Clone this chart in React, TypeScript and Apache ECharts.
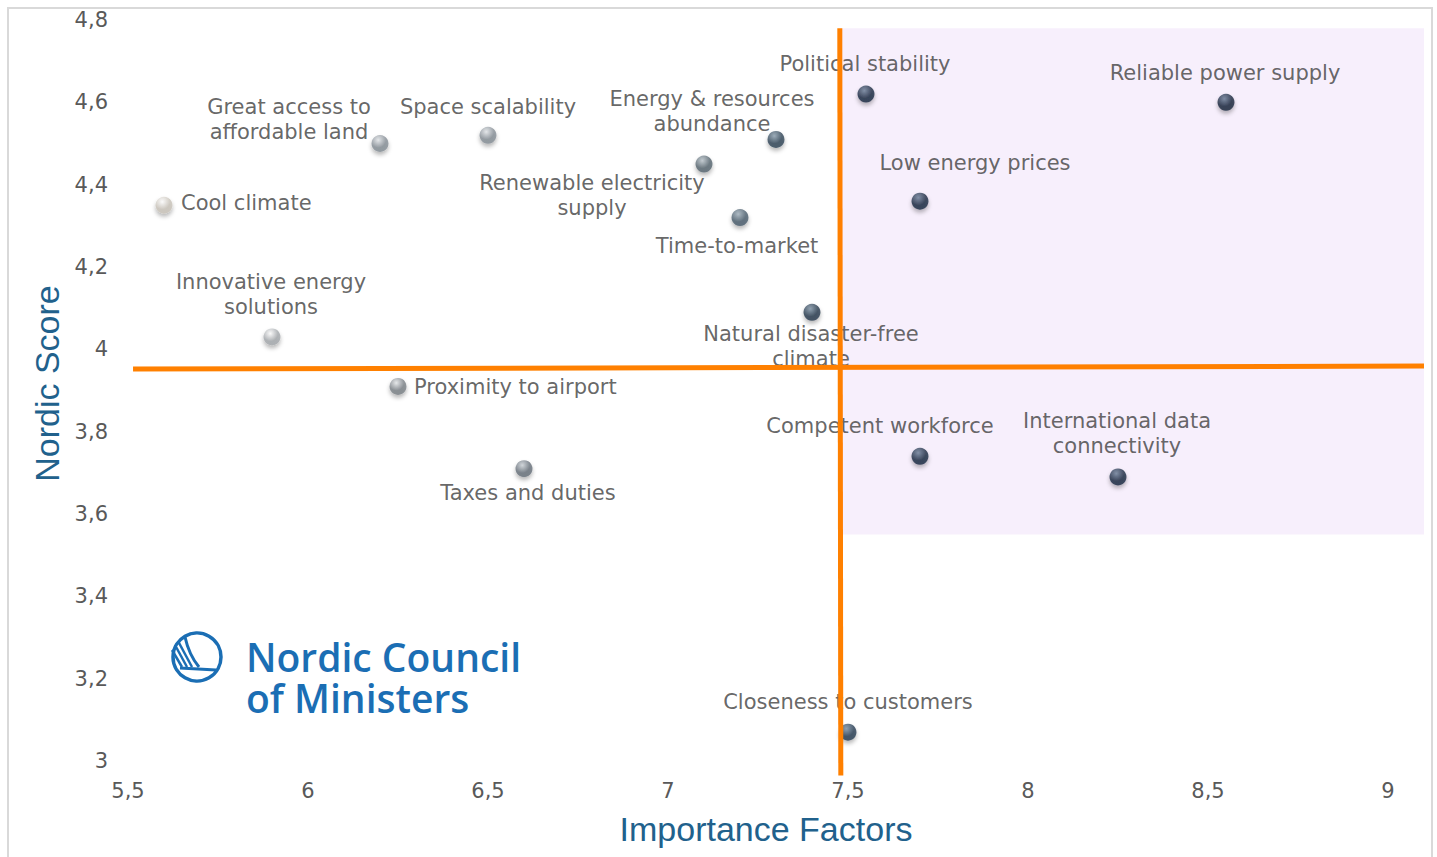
import React, { useEffect, useRef } from "react";
import * as echarts from "echarts";

// ---- data ----
const factors = [
  "Cool climate",
  "Great access to\naffordable land",
  "Space scalability",
  "Renewable electricity\nsupply",
  "Energy & resources\nabundance",
  "Time-to-market",
  "Political stability",
  "Reliable power supply",
  "Low energy prices",
  "Natural disaster-free\nclimate",
  "Innovative energy\nsolutions",
  "Proximity to airport",
  "Taxes and duties",
  "Competent workforce",
  "International data\nconnectivity",
  "Closeness to customers",
];
const importance = [5.6, 6.2, 6.5, 7.1, 7.3, 7.2, 7.55, 8.55, 7.7, 7.4, 5.9, 6.25, 6.6, 7.7, 8.25, 7.5];
const nordicScore = [4.35, 4.5, 4.52, 4.45, 4.51, 4.32, 4.62, 4.6, 4.36, 4.09, 4.03, 3.91, 3.71, 3.74, 3.69, 3.07];

const xTicks = [5.5, 6, 6.5, 7, 7.5, 8, 8.5, 9];
const yTicks = [3, 3.2, 3.4, 3.6, 3.8, 4, 4.2, 4.4, 4.6, 4.8];

const thresholdImportance = 7.48;
const thresholdScore = 3.957;

// ---- styling / layout (not data) ----
const pointColors = [
  ["#ffffff", "#c9c3b9"],
  ["#e4e7ea", "#858d95"],
  ["#e4e7ea", "#858d95"],
  ["#bcc6cd", "#56656f"],
  ["#8ea1b0", "#2f4456"],
  ["#a3b2bd", "#495c6b"],
  ["#6f819a", "#1b2941"],
  ["#6a7c96", "#18253c"],
  ["#6f819a", "#1b2941"],
  ["#7f93a6", "#26394c"],
  ["#ffffff", "#a4a8ac"],
  ["#e6e9eb", "#7a8086"],
  ["#cdd3d8", "#67707a"],
  ["#6f819a", "#1b2941"],
  ["#6f819a", "#1b2941"],
  ["#7d93a8", "#263c52"],
];
// label offsets relative to point centre: [dx, dy, align]
const labelLayout: [number, number, string][] = [
  [17, -2, "left"],
  [-91, -24, "center"],
  [0, -28, "center"],
  [-112, 31, "center"],
  [-64, -28, "center"],
  [-3, 28, "center"],
  [-1, -30, "center"],
  [-1, -29, "center"],
  [55, -38, "center"],
  [-1, 34, "center"],
  [-1, -42, "center"],
  [16, 1, "left"],
  [4, 24, "center"],
  [-40, -30, "center"],
  [-1, -43, "center"],
  [0, -30, "center"],
];

const fmt = (v: number) => String(+Number(v).toFixed(1)).replace(".", ",");

export default function App() {
  const ref = useRef<HTMLDivElement>(null);
  useEffect(() => {
    document.body.style.margin = "0";
    const chart = echarts.init(ref.current!, null, { renderer: "svg" });
    const data = factors.map((name, i) => ({
      name,
      value: [importance[i], nordicScore[i]],
      itemStyle: {
        color: {
          type: "radial",
          x: 0.4,
          y: 0.3,
          r: 0.75,
          colorStops: [
            { offset: 0, color: pointColors[i][0] },
            { offset: 0.6, color: pointColors[i][1] },
            { offset: 1, color: pointColors[i][1] },
          ],
        },
        shadowColor: "rgba(0,0,0,0.35)",
        shadowBlur: 4,
        shadowOffsetY: 3,
      },
      label: {
        offset: [labelLayout[i][0], labelLayout[i][1]],
        align: labelLayout[i][2],
      },
    }));
    chart.setOption({
      animation: false,
      backgroundColor: "#ffffff",
      grid: { left: 128, right: 49, top: 20, bottom: 96, containLabel: false },
      xAxis: {
        type: "value",
        min: xTicks[0],
        max: xTicks[xTicks.length - 1],
        interval: 0.5,
        name: "Importance Factors",
        nameLocation: "middle",
        nameGap: 51,
        nameTextStyle: { color: "#21618c", fontSize: 34, fontFamily: "Liberation Sans", padding: [0, 0, 0, 16] },
        axisLine: { show: false },
        axisTick: { show: false },
        splitLine: { show: false },
        axisLabel: { color: "#595959", fontSize: 21, fontFamily: "DejaVu Sans", margin: 19, formatter: fmt },
      },
      yAxis: {
        type: "value",
        min: yTicks[0],
        max: yTicks[yTicks.length - 1],
        interval: 0.2,
        name: "Nordic Score",
        nameLocation: "middle",
        nameGap: 64,
        nameTextStyle: { color: "#21618c", fontSize: 34, fontFamily: "Liberation Sans", padding: [0, 0, 0, 14] },
        axisLine: { show: false },
        axisTick: { show: false },
        splitLine: { show: false },
        axisLabel: { color: "#595959", fontSize: 21, fontFamily: "DejaVu Sans", margin: 20, formatter: fmt },
      },
      series: [
        {
          type: "scatter",
          z: 3,
          symbolSize: 17,
          data,
          label: {
            show: true,
            position: "inside",
            formatter: "{b}",
            color: "#404040",
            fontSize: 21,
            lineHeight: 25,
            fontFamily: "DejaVu Sans",
            verticalAlign: "middle",
          },
        },
      ],
    });
    const p = (x: number, y: number) => chart.convertToPixel({ gridIndex: 0 }, [x, y]) as number[];
    const rTL = p(thresholdImportance, 4.78);
    const rBR = p(9.1, 3.55);
    const vTop = p(thresholdImportance, 4.78);
    const vBot = p(thresholdImportance, 2.965);
    const hL = p(5.514, thresholdScore);
    const hR = p(9.1, thresholdScore);
    const blue = "#1b6eb4";
    chart.setOption({
      graphic: [
        {
          type: "rect",
          z: 0,
          shape: { x: 8, y: 8, width: 1424, height: 860 },
          style: { fill: "none", stroke: "#d9d9d9", lineWidth: 2 },
          silent: true,
        },
        {
          type: "rect",
          z: 1,
          shape: { x: rTL[0], y: rTL[1], width: rBR[0] - rTL[0], height: rBR[1] - rTL[1] },
          style: { fill: "#f7effc" },
          silent: true,
        },
        {
          type: "line",
          z: 100,
          shape: { x1: hL[0], y1: hL[1] + 2, x2: hR[0], y2: hR[1] - 1 },
          style: { stroke: "#ff8000", lineWidth: 5 },
          silent: true,
        },
        {
          type: "line",
          z: 100,
          shape: { x1: vTop[0] - 1, y1: vTop[1], x2: vBot[0], y2: vBot[1] },
          style: { stroke: "#ff8000", lineWidth: 5 },
          silent: true,
        },
        // logo
        {
          type: "group",
          z: 5,
          children: [
            { type: "circle", shape: { cx: 197, cy: 657, r: 24 }, style: { fill: "none", stroke: blue, lineWidth: 3.5 } },
            {
              type: "bezierCurve",
              shape: { x1: 185, y1: 637, cpx1: 189, cpy1: 655, x2: 199, y2: 667 },
              style: { fill: "none", stroke: blue, lineWidth: 3 },
            },
            { type: "line", shape: { x1: 180, y1: 668, x2: 216, y2: 670 }, style: { stroke: blue, lineWidth: 3 } },
            { type: "line", shape: { x1: 172, y1: 650, x2: 182, y2: 667 }, style: { stroke: blue, lineWidth: 2.5 } },
            { type: "line", shape: { x1: 175, y1: 645, x2: 187, y2: 667 }, style: { stroke: blue, lineWidth: 2.5 } },
            { type: "line", shape: { x1: 178, y1: 641, x2: 192, y2: 667 }, style: { stroke: blue, lineWidth: 2.5 } },
            {
              type: "text",
              x: 246,
              y: 636,
              style: {
                text: "Nordic Council\nof Ministers",
                fill: blue,
                font: "600 39px 'Open Sans'",
                lineHeight: 41,
                textVerticalAlign: "top",
              },
            },
          ],
        },
      ],
    });
    return () => chart.dispose();
  }, []);
  return <div ref={ref} style={{ width: 1437, height: 857 }} />;
}
